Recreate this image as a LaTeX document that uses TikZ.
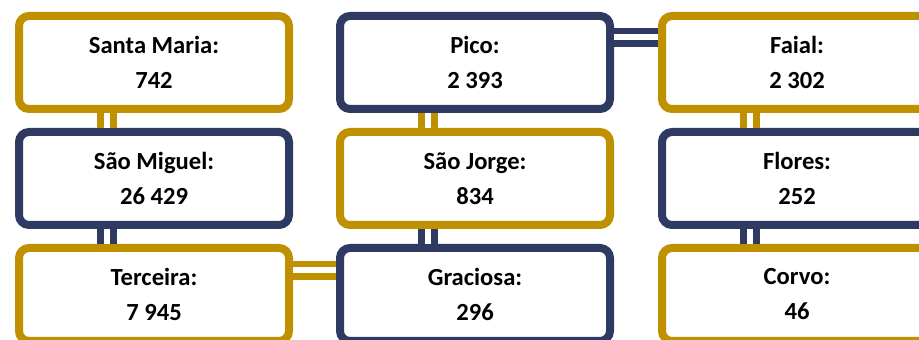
\documentclass[tikz,border=0pt]{standalone}
\usepackage{fontspec}
\setmainfont{Carlito}
\usepackage{xcolor}
\usepackage{tikz}
\usetikzlibrary{positioning}

\definecolor{islegold}{RGB}{191,144,0}
\definecolor{islenavy}{RGB}{47,58,99}

\begin{document}
\begin{tikzpicture}[
      x=0.5pt,y=-0.5pt,
      island/.style={
        rectangle,
        draw,
        fill=white,
        line width=4pt,
        minimum width=135pt,
        minimum height=46.5pt,
        rounded corners=5pt,
        align=center,
        font=\bfseries\fontsize{12.3}{17.5}\selectfont
      },
      goldbox/.style={island,draw=islegold},
      navybox/.style={island,draw=islenavy},
      link/.style={draw=#1,line width=3.3pt,double=white,double distance=3pt}
    ]
    \useasboundingbox (0,0) rectangle (919,340);

    % First column
    \node[goldbox] (smaria) at (154,62.5) {Santa Maria:\\742};
    \node[navybox,below=7.5pt of smaria] (smiguel) {São Miguel:\\26 429};
    \node[goldbox,below=7.5pt of smiguel] (terceira) {Terceira:\\7 945};

    % Second column
    \node[navybox,right=21.5pt of smaria] (pico) {Pico:\\2 393};
    \node[goldbox,below=7.5pt of pico] (sjorge) {São Jorge:\\834};
    \node[navybox,below=7.5pt of sjorge] (graciosa) {Graciosa:\\296};

    % Third column
    \node[goldbox,right=22pt of pico] (faial) {Faial:\\2 302};
    \node[navybox,below=7.5pt of faial] (flores) {Flores:\\252};
    \node[goldbox,below=7.5pt of flores] (corvo) {Corvo:\\46};

    % Links between islands
    \draw[link=islegold] ([xshift=-23.5pt]smaria.south) -- ([xshift=-23.5pt]smiguel.north);
    \draw[link=islenavy] ([xshift=-23.5pt]smiguel.south) -- ([xshift=-23.5pt]terceira.north);
    \draw[link=islegold] ([xshift=-23.5pt]pico.south) -- ([xshift=-23.5pt]sjorge.north);
    \draw[link=islenavy] ([xshift=-23.5pt]sjorge.south) -- ([xshift=-23.5pt]graciosa.north);
    \draw[link=islegold] ([xshift=-23.5pt]faial.south) -- ([xshift=-23.5pt]flores.north);
    \draw[link=islenavy] ([xshift=-23.5pt]flores.south) -- ([xshift=-23.5pt]corvo.north);
    \draw[link=islegold] ([yshift=12pt]terceira.east) -- ([yshift=12pt]graciosa.west);
    \draw[link=islenavy] ([yshift=12.5pt]pico.east) -- ([yshift=12.5pt]faial.west);
  \end{tikzpicture}
\end{document}
